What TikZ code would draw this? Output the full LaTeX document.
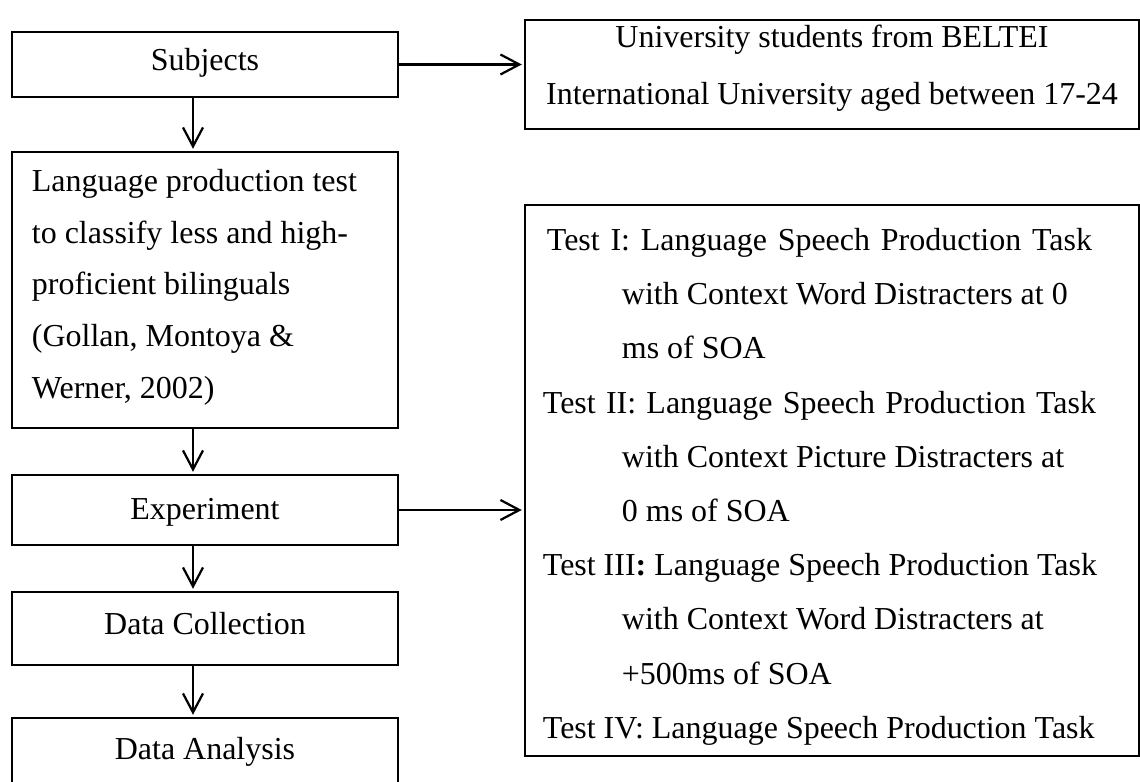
\documentclass[tikz,border=0pt]{standalone}
\usepackage{fontspec}
\setmainfont{Liberation Serif}
\usetikzlibrary{arrows.meta}

\newlength{\pxl}
\setlength{\pxl}{0.38pt}

\begin{document}
\begin{tikzpicture}[
    x=0.38pt, y=-0.38pt,
    font=\fontsize{12.15}{14}\selectfont,
    stage/.style={draw, line width=0.45pt, inner sep=0pt, minimum width=386\pxl,
        text height=8pt, text depth=3.8pt},
    sidebox/.style={draw, line width=0.45pt, inner sep=0pt, minimum width=614\pxl},
    boxtext/.style={inner sep=0pt},
    flowarrow/.style={-{Straight Barb[length=7.2pt,width=7.6pt]}, line width=0.85pt, shorten >=1pt}
]
\clip (0,0) rectangle (1140,782);

% left column
\node[stage, minimum height=65\pxl] (subj) at (205,64.5) {Subjects};
\node[stage, minimum height=276\pxl] (lang) at (205,290) {};
\node[stage, minimum height=70\pxl, text height=9.5pt, text depth=2.3pt] (exp) at (205,510) {Experiment};
\node[stage, minimum height=73\pxl] (coll) at (205,628.5) {Data Collection};
\node[stage, minimum height=72\pxl] (anal) at (205,754) {Data Analysis};

\node[boxtext, anchor=north west, align=left, font=\fontsize{12.15}{19.65}\selectfont]
    (langtext) at ([shift={(20,17.3)}]lang.north west)
    {Language production test\\to classify less and high-\\proficient bilinguals\\(Gollan, Montoya \&\\Werner, 2002)};

% right column
\node[sidebox, minimum height=109\pxl] (info) at (832,74.5) {};
\node[sidebox, minimum height=551\pxl] (tests) at (832,480.5) {};

\node[boxtext, anchor=north, align=center, font=\fontsize{12.15}{21.5}\selectfont]
    (infotext) at ([shift={(0,5)}]info.north)
    {University students from BELTEI\\International University aged between 17-24};

\node[boxtext, anchor=north west, align=left, font=\fontsize{12.15}{20.6}\selectfont]
    (teststext) at ([shift={(18,23.3)}]tests.north west)
    {\hspace*{4\pxl}\makebox[545\pxl][s]{Test I: Language Speech Production Task}\\
     \hspace*{79\pxl}with Context Word Distracters at 0\\
     \hspace*{79\pxl}ms of SOA\\
     \makebox[553\pxl][s]{Test II: Language Speech Production Task}\\
     \hspace*{79\pxl}with Context Picture Distracters at\\
     \hspace*{79\pxl}0 ms of SOA\\
     Test III\textbf{:} Language Speech Production Task\\
     \hspace*{79\pxl}with Context Word Distracters at\\
     \hspace*{79\pxl}+500ms of SOA\\
     Test IV: Language Speech Production Task};

% arrows
\coordinate (spine) at (193,0);
\draw[flowarrow] (subj.east) -- (subj.east -| info.west);
\draw[flowarrow] (exp.east) -- (exp.east -| tests.west);
\draw[flowarrow] (subj.south -| spine) -- (lang.north -| spine);
\draw[flowarrow] (lang.south -| spine) -- (exp.north -| spine);
\draw[flowarrow] (exp.south -| spine) -- (coll.north -| spine);
\draw[flowarrow] (coll.south -| spine) -- (anal.north -| spine);

\end{tikzpicture}
\end{document}
